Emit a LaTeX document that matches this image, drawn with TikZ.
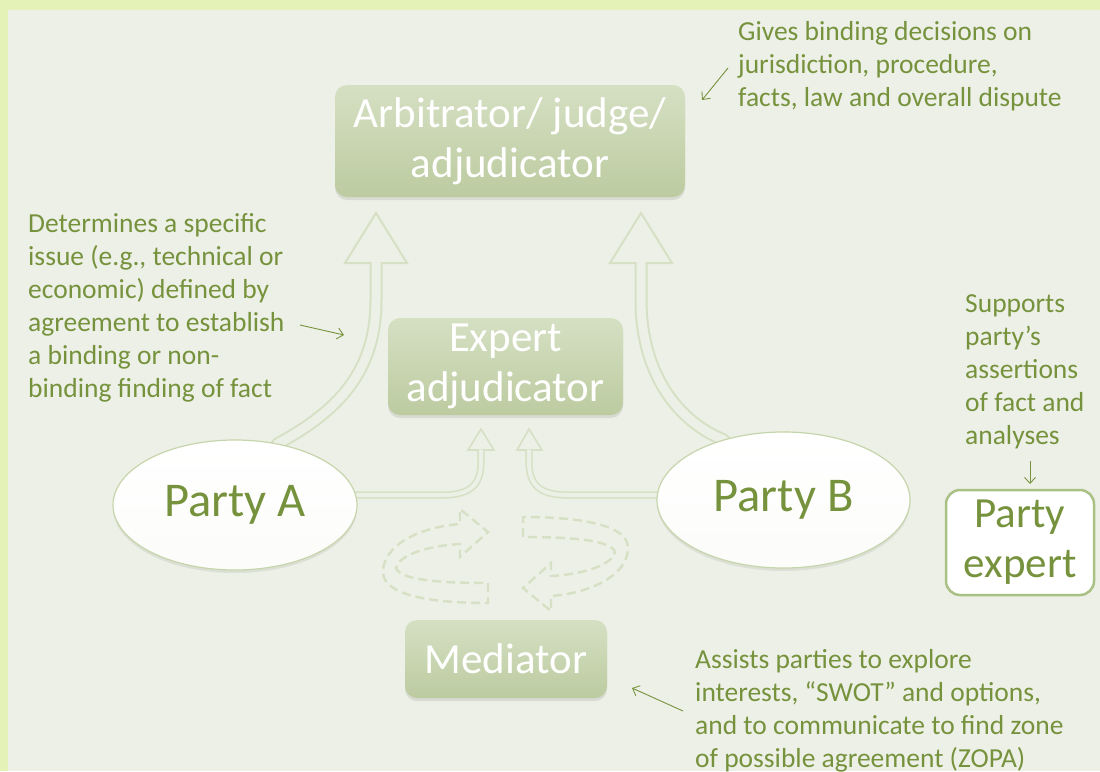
\documentclass[tikz,border=0pt]{standalone}
\usepackage{fontspec}
\setmainfont{Carlito}
\usetikzlibrary{shapes.geometric,arrows.meta,shadows,calc}
\definecolor{outerbg}{HTML}{E4F2B8}
\definecolor{innerbg}{HTML}{EDF0E6}
\definecolor{txtgreen}{HTML}{76923C}
\definecolor{boxtop}{HTML}{D5E0C3}
\definecolor{boxbot}{HTML}{BCCBA0}
\definecolor{pale}{HTML}{D6E0C4}
\definecolor{ellborder}{HTML}{C6D5AB}
\definecolor{expborder}{HTML}{A9C184}
\pgfdeclarelayer{back}
\pgfdeclarelayer{arrowlayer}
\pgfsetlayers{back,arrowlayer,main}
\begin{document}
\begin{tikzpicture}[x=1pt,y=-1pt,
  greenbox/.style={rectangle, rounded corners=12pt, top color=boxtop, bottom color=boxbot,
    text=white, align=center, inner sep=0pt, font=\fontsize{43}{50}\selectfont,
    drop shadow={shadow xshift=0pt,shadow yshift=-3pt,opacity=0.15,fill=black!60}},
  party/.style={ellipse, draw=ellborder, line width=1.2pt, top color=white, bottom color=white!92!boxtop,
    text=txtgreen, inner sep=0pt, font=\fontsize{48.5}{55}\selectfont,
    drop shadow={shadow xshift=0pt,shadow yshift=-3pt,opacity=0.12,fill=black!60}},
  expertbox/.style={rectangle, rounded corners=14pt, draw=expborder, line width=2.5pt, fill=white,
    text=txtgreen, align=center, inner sep=0pt, font=\fontsize{43}{50}\selectfont},
  note/.style={text=txtgreen, align=left, inner sep=0pt, anchor=north west, font=\fontsize{27.5}{33}\selectfont},
  notearrow/.style={draw=txtgreen, line width=0.9pt, -{Straight Barb[length=6pt,width=11pt]}},
  bigshaft/.style={draw=pale, line width=2pt, double=innerbg, double distance=9pt},
  smallshaft/.style={draw=pale, line width=1.6pt, double=innerbg, double distance=4pt},
  bighead/.style={draw=pale, line width=2pt, fill=innerbg, line join=miter},
  smallhead/.style={draw=pale, line width=1.6pt, fill=innerbg, line join=miter},
  dashloop/.style={draw=pale, line width=2.4pt, dash pattern=on 9pt off 5pt},
  pics/cyclearrow/.style={code={
    \draw[dashloop] (-17.5,23) -- (-17.5,43) .. controls (-75.5,43) and (-122.5,35) .. (-122.5,12)
      .. controls (-122.5,-15) and (-85.5,-33) .. (-45.5,-36) -- (-45.5,-51) -- (-17.5,-28)
      -- (-45.5,-3) -- (-45.5,-16) .. controls (-80.5,-14) and (-107.5,-4) .. (-109.5,8)
      .. controls (-105.5,20) and (-65.5,23) .. (-17.5,23) -- cycle;
  }}
]
\begin{pgfonlayer}{back}
  \fill[outerbg] (0,0) rectangle (1100,771);
  \fill[innerbg] (8,10) rectangle (1100,771);
\end{pgfonlayer}
\useasboundingbox (0,0) rectangle (1100,771);

% nodes
\node[greenbox, minimum width=350pt, minimum height=112pt] (arb) at (510,141) {Arbitrator/ judge/\\adjudicator};
\node[greenbox, minimum width=235pt, minimum height=97pt] (exp) at (505.5,366.5) {Expert\\adjudicator};
\node[greenbox, minimum width=202pt, minimum height=78pt] (med) at (506,659) {Mediator};
\node[party, minimum width=244pt, minimum height=130pt] (pa) at (235,505) {Party A};
\node[party, minimum width=253pt, minimum height=136pt] (pb) at (783.5,500) {Party B};
\node[expertbox, minimum width=148pt, minimum height=105pt] (pe) at (1020,542.5) {Party\\expert};

% notes
\node[note] (gives) at (738,21) {Gives binding decisions on\\jurisdiction, procedure,\\facts, law and overall dispute};
\node[note] (determines) at (28,213) {Determines a specific\\issue (e.g., technical or\\economic) defined by\\agreement to establish\\a binding or non-\\binding finding of fact};
\node[note] (supports) at (965,294) {Supports\\party’s\\assertions\\of fact and\\analyses};
\node[note] (assists) at (695,649) {Assists parties to explore\\interests, “SWOT” and options,\\and to communicate to find zone\\of possible agreement (ZOPA)};

% big and small block arrows (behind the nodes)
\begin{pgfonlayer}{arrowlayer}
  \coordinate (lhA) at (376,213);
  \coordinate (rhA) at (641,213);
  \draw[bighead] (lhA) -- (407,263) -- (345,263) -- cycle;
  \draw[bighead] (rhA) -- (672,263) -- (610,263) -- cycle;
  \draw[bigshaft] (pa.center) -- (pa.55) .. controls (340,410) and (376,370) .. (376,300) -- (376,262);
  \draw[bigshaft] (pb.center) -- (pb.135) .. controls (675,420) and (641,370) .. (641,300) -- (641,262);

  \coordinate (lsA) at (481,429);
  \coordinate (rsA) at (529,429);
  \draw[smallhead] (lsA) -- (494,450) -- (468,450) -- cycle;
  \draw[smallhead] (rsA) -- (542,450) -- (517,450) -- cycle;
  \draw[smallshaft] ([yshift=10pt]pa.center) -- (443,495) .. controls (470,495) and (481,485) .. (481,462) -- (481,449.5);
  \draw[smallshaft] ([yshift=5pt]pb.center) -- (567,495) .. controls (540,495) and (529,485) .. (529,462) -- (529,449.5);

  \pic at (505.5,560) {cyclearrow};
  \pic[rotate=180] at (505.5,560) {cyclearrow};
\end{pgfonlayer}

% note arrows
\coordinate (g1) at (728,68);  \coordinate (g2) at (702,100);
\coordinate (d1) at (300,325); \coordinate (d2) at (344,335);
\coordinate (s1) at (1030,461); \coordinate (s2) at (1030,484);
\coordinate (a1) at (683,711); \coordinate (a2) at (632,688);
\draw[notearrow] (g1) -- (g2);
\draw[notearrow] (d1) -- (d2);
\draw[notearrow] (s1) -- (s2);
\draw[notearrow] (a1) -- (a2);
\end{tikzpicture}
\end{document}
